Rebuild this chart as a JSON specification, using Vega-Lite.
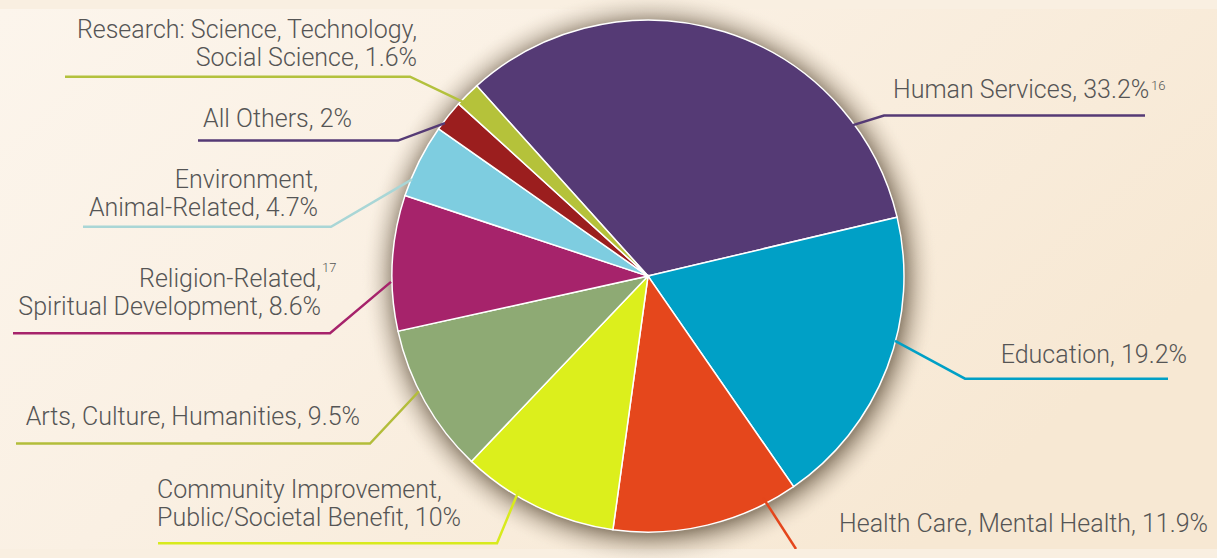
{
  "$schema": "https://vega.github.io/schema/vega-lite/v6.json",
  "width": 1217,
  "height": 558,
  "autosize": {"type": "fit", "contains": "padding"},
  "padding": 0,
  "background": "#f9efe1",
  "config": {
    "view": {"stroke": null},
    "text": {"font": "Roboto", "fontWeight": 300, "fontSize": 25, "color": "#555555", "lineHeight": 28}
  },
  "datasets": {
    "slices": [
      {"cat": "Human Services", "value": 33.2},
      {"cat": "Education", "value": 19.2},
      {"cat": "Health Care, Mental Health", "value": 11.9},
      {"cat": "Community Improvement, Public/Societal Benefit", "value": 10},
      {"cat": "Arts, Culture, Humanities", "value": 9.5},
      {"cat": "Religion-Related, Spiritual Development", "value": 8.6},
      {"cat": "Environment, Animal-Related", "value": 4.7},
      {"cat": "All Others", "value": 2},
      {"cat": "Research: Science, Technology, Social Science", "value": 1.6}
    ],
    "leaders": [
      {"cat": "Human Services", "i": 0, "x": 853, "y": 120},
      {"cat": "Human Services", "i": 1, "x": 884, "y": 110},
      {"cat": "Human Services", "i": 2, "x": 1145, "y": 110},
      {"cat": "Education", "i": 0, "x": 895, "y": 343},
      {"cat": "Education", "i": 1, "x": 965, "y": 382},
      {"cat": "Education", "i": 2, "x": 1168, "y": 382},
      {"cat": "Health Care, Mental Health", "i": 0, "x": 763, "y": 505},
      {"cat": "Health Care, Mental Health", "i": 1, "x": 796, "y": 558},
      {"cat": "Community Improvement, Public/Societal Benefit", "i": 0, "x": 519, "y": 497},
      {"cat": "Community Improvement, Public/Societal Benefit", "i": 1, "x": 497, "y": 552},
      {"cat": "Community Improvement, Public/Societal Benefit", "i": 2, "x": 158, "y": 552},
      {"cat": "Arts, Culture, Humanities", "i": 0, "x": 419, "y": 395},
      {"cat": "Arts, Culture, Humanities", "i": 1, "x": 370, "y": 449},
      {"cat": "Arts, Culture, Humanities", "i": 2, "x": 16, "y": 449},
      {"cat": "Religion-Related, Spiritual Development", "i": 0, "x": 391, "y": 282},
      {"cat": "Religion-Related, Spiritual Development", "i": 1, "x": 330, "y": 335},
      {"cat": "Religion-Related, Spiritual Development", "i": 2, "x": 13, "y": 335},
      {"cat": "Environment, Animal-Related", "i": 0, "x": 412, "y": 176},
      {"cat": "Environment, Animal-Related", "i": 1, "x": 331, "y": 225},
      {"cat": "Environment, Animal-Related", "i": 2, "x": 83, "y": 225},
      {"cat": "All Others", "i": 0, "x": 445, "y": 118},
      {"cat": "All Others", "i": 1, "x": 398, "y": 136},
      {"cat": "All Others", "i": 2, "x": 198, "y": 136},
      {"cat": "Research: Science, Technology, Social Science", "i": 0, "x": 465, "y": 97},
      {"cat": "Research: Science, Technology, Social Science", "i": 1, "x": 410, "y": 70},
      {"cat": "Research: Science, Technology, Social Science", "i": 2, "x": 65, "y": 70}
    ],
    "labelsRight": [
      {"label": ["Research: Science, Technology,", "Social Science, 1.6%"], "x": 417, "y": 30},
      {"label": "All Others, 2%", "x": 352, "y": 122},
      {"label": ["Environment,", "Animal-Related, 4.7%"], "x": 318, "y": 185},
      {"label": ["Religion-Related,", "Spiritual Development, 8.6%"], "x": 321, "y": 287},
      {"label": "Arts, Culture, Humanities, 9.5%", "x": 360, "y": 430},
      {"label": "Education, 19.2%", "x": 1187, "y": 366}
    ],
    "labelsLeft": [
      {"label": ["Community Improvement,", "Public/Societal Benefit, 10%"], "x": 157, "y": 505},
      {"label": "Human Services, 33.2%", "x": 893, "y": 92},
      {"label": "Health Care, Mental Health, 11.9%", "x": 839, "y": 540}
    ],
    "notes": [
      {"note": "16", "x": 1151, "y": 84},
      {"note": "17", "x": 322, "y": 272}
    ]
  },
  "layer": [
    {
      "data": {"values": [{}]},
      "mark": {
        "type": "rect",
        "fill": {
          "gradient": "linear", "x1": 0, "y1": 0, "x2": 1, "y2": 0.5,
          "stops": [
            {"offset": 0, "color": "#fcf5ec"},
            {"offset": 0.45, "color": "#faf0e3"},
            {"offset": 1, "color": "#f7e8d3"}
          ]
        }
      },
      "encoding": {
        "x": {"datum": 0, "type": "quantitative", "scale": {"domain": [0, 1217], "nice": false, "zero": false}, "axis": null},
        "x2": {"datum": 1217},
        "y": {"datum": 0, "type": "quantitative", "scale": {"domain": [0, 558], "nice": false, "zero": false, "reverse": true}, "axis": null},
        "y2": {"datum": 558}
      }
    },
    {
      "data": {"values": [{}]},
      "mark": {
        "type": "arc", "theta": 0, "theta2": 6.2832, "outerRadius": 288,
        "fill": {
          "gradient": "radial", "x1": 0.5, "y1": 0.5, "r1": 0, "x2": 0.5, "y2": 0.5, "r2": 0.5,
          "stops": [
            {"offset": 0, "color": "rgba(100,85,65,0.65)"},
            {"offset": 0.885, "color": "rgba(100,85,65,0.65)"},
            {"offset": 0.93, "color": "rgba(130,115,95,0.3)"},
            {"offset": 1, "color": "rgba(240,228,210,0)"}
          ]
        }
      },
      "encoding": {
        "x": {"datum": 650, "type": "quantitative", "axis": null},
        "y": {"datum": 279, "type": "quantitative", "axis": null}
      }
    },
    {
      "data": {"name": "slices"},
      "mark": {"type": "arc", "outerRadius": 256, "stroke": "#ffffff", "strokeWidth": 1.5},
      "encoding": {
        "x": {"datum": 648, "type": "quantitative", "axis": null},
        "y": {"datum": 276, "type": "quantitative", "axis": null},
        "theta": {"field": "value", "type": "quantitative", "stack": true, "scale": {"range": [-0.733, 5.5502]}},
        "order": {"field": "value", "sort": "descending"},
        "color": {
          "field": "cat", "type": "nominal", "legend": null,
          "scale": {
            "domain": ["Human Services", "Education", "Health Care, Mental Health", "Community Improvement, Public/Societal Benefit", "Arts, Culture, Humanities", "Religion-Related, Spiritual Development", "Environment, Animal-Related", "All Others", "Research: Science, Technology, Social Science"],
            "range": ["#553a75", "#00a0c6", "#e5471c", "#dcef1c", "#8eaa74", "#a6236b", "#7ecde0", "#9b1e1e", "#b5c23a"]
          }
        }
      }
    },
    {
      "data": {"name": "leaders"},
      "mark": {"type": "line", "strokeWidth": 2.5, "clip": true},
      "encoding": {
        "x": {"field": "x", "type": "quantitative", "axis": null},
        "y": {"field": "y", "type": "quantitative", "axis": null},
        "detail": {"field": "cat"},
        "order": {"field": "i", "type": "quantitative"},
        "stroke": {
          "field": "cat", "type": "nominal", "legend": null,
          "scale": {
            "domain": ["Human Services", "Education", "Health Care, Mental Health", "Community Improvement, Public/Societal Benefit", "Arts, Culture, Humanities", "Religion-Related, Spiritual Development", "Environment, Animal-Related", "All Others", "Research: Science, Technology, Social Science"],
            "range": ["#553a75", "#00a0c6", "#e4461c", "#d8ea1d", "#b3bd3a", "#a6236b", "#a9d6d6", "#553a75", "#b3c13d"]
          }
        }
      }
    },
    {
      "data": {"name": "labelsRight"},
      "mark": {"type": "text", "align": "right", "baseline": "alphabetic"},
      "encoding": {
        "x": {"field": "x", "type": "quantitative", "axis": null},
        "y": {"field": "y", "type": "quantitative", "axis": null},
        "text": {"field": "label", "type": "nominal"}
      }
    },
    {
      "data": {"name": "labelsLeft"},
      "mark": {"type": "text", "align": "left", "baseline": "alphabetic"},
      "encoding": {
        "x": {"field": "x", "type": "quantitative", "axis": null},
        "y": {"field": "y", "type": "quantitative", "axis": null},
        "text": {"field": "label", "type": "nominal"}
      }
    },
    {
      "data": {"name": "notes"},
      "mark": {"type": "text", "align": "left", "baseline": "alphabetic", "fontSize": 13},
      "encoding": {
        "x": {"field": "x", "type": "quantitative", "axis": null},
        "y": {"field": "y", "type": "quantitative", "axis": null},
        "text": {"field": "note", "type": "nominal"}
      }
    }
  ]
}
